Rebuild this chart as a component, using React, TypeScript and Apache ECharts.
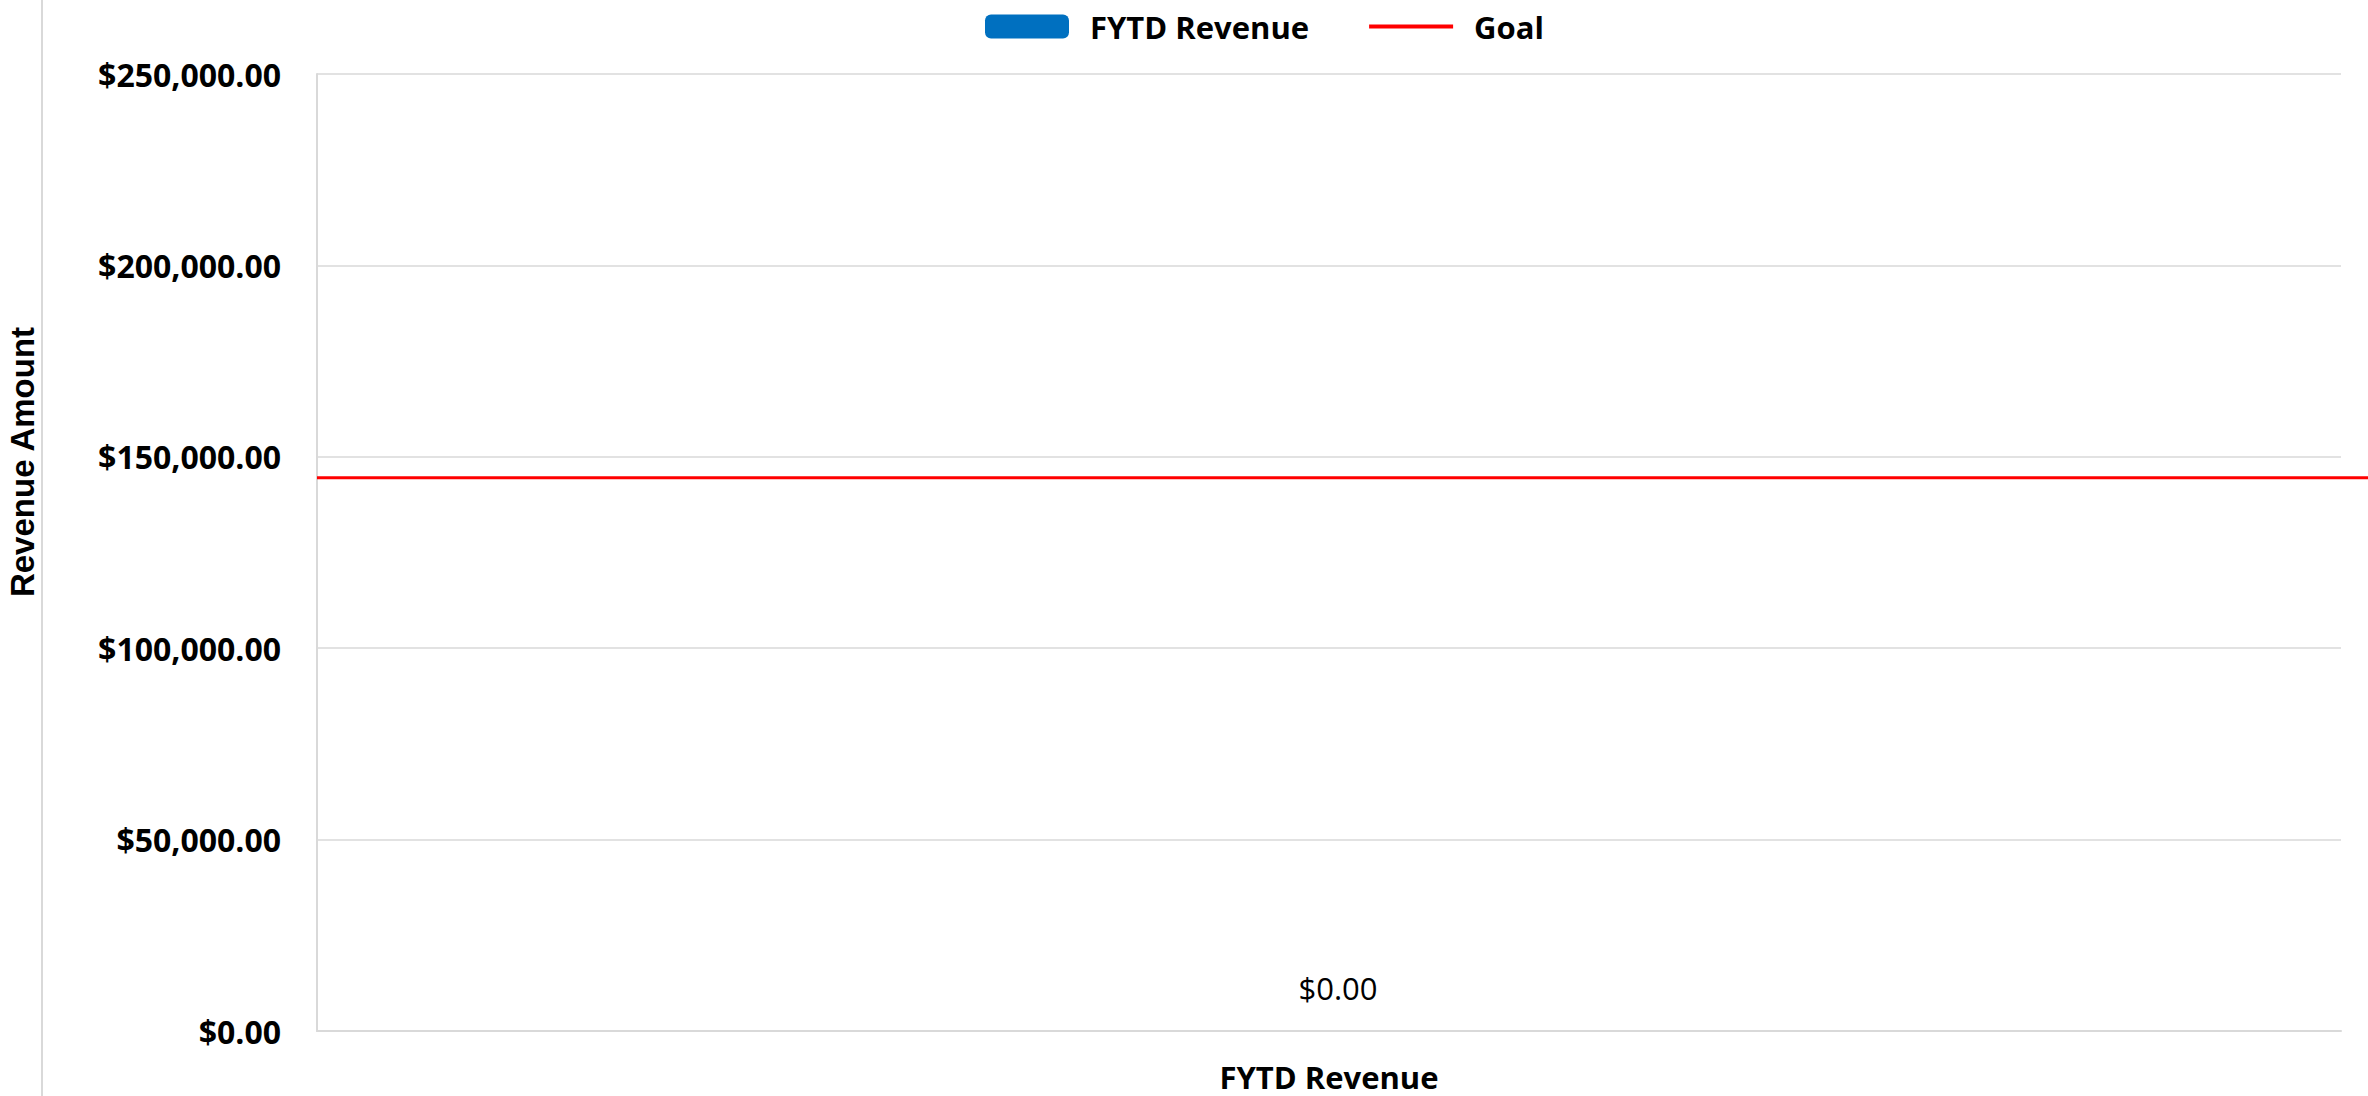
import React, { useEffect, useRef } from "react";
import * as echarts from "echarts";

const categories = ["FYTD Revenue"];
const revenueValues = [0];
const goalValue = 144500;
const yTicks = { min: 0, max: 250000, interval: 50000 };
const seriesNames = ["FYTD Revenue", "Goal"];
const yAxisTitle = "Revenue Amount";

const fmtMoney = (v: number) =>
  "$" + v.toLocaleString("en-US", { minimumFractionDigits: 2, maximumFractionDigits: 2 });

export default function App() {
  const ref = useRef<HTMLDivElement>(null);
  useEffect(() => {
    if (!ref.current) return;
    const chart = echarts.init(ref.current, undefined, { renderer: "svg" });
    const H = 1096;
    chart.setOption({
      animation: false,
      backgroundColor: "#ffffff",
      grid: { left: 317, right: 27, top: 74, bottom: 65, containLabel: false },
      legend: {
        left: 980,
        top: 6,
        itemWidth: 84,
        itemHeight: 24,
        itemGap: 60,
        textStyle: {
          fontFamily: "Open Sans",
          fontWeight: "bold",
          fontSize: 31,
          color: "#000",
          padding: [0, 0, 0, 16],
        },
        data: [
          { name: seriesNames[0], icon: "roundRect" },
          { name: seriesNames[1], icon: "path://M0,0 L84,0 L84,4 L0,4 Z" },
        ],
      },
      xAxis: {
        type: "category",
        data: categories,
        axisLine: { show: true, lineStyle: { color: "#d9d9d9", width: 2 } },
        axisTick: { show: false },
        axisLabel: {
          margin: 30,
          fontFamily: "Open Sans",
          fontWeight: "bold",
          fontSize: 31,
          lineHeight: 31,
          color: "#000",
        },
      },
      yAxis: {
        type: "value",
        min: yTicks.min,
        max: yTicks.max,
        interval: yTicks.interval,
        axisLine: { show: true, lineStyle: { color: "#d9d9d9", width: 2 } },
        axisTick: { show: false },
        splitLine: { show: true, lineStyle: { color: "#d9d9d9", width: 1.5 } },
        axisLabel: {
          margin: 36,
          fontFamily: "Open Sans",
          fontWeight: "bold",
          fontSize: 32,
          color: "#000",
          formatter: (v: number) => fmtMoney(v),
        },
      },
      graphic: [
        {
          type: "line",
          shape: { x1: 42, y1: 0, x2: 42, y2: H },
          style: { stroke: "#d9d9d9", lineWidth: 2 },
          silent: true,
        },
        {
          type: "text",
          x: 22,
          y: 462,
          rotation: Math.PI / 2,
          style: {
            text: yAxisTitle,
            fontFamily: "Liberation Sans",
            fontWeight: "bold",
            fontSize: 33,
            fill: "#000",
            align: "center",
            verticalAlign: "middle",
          },
        },
      ],
      series: [
        {
          name: seriesNames[0],
          type: "bar",
          data: revenueValues,
          barWidth: "60%",
          itemStyle: { color: "#0070c0" },
          label: {
            show: true,
            position: "top",
            distance: 28,
            offset: [9, 0],
            fontFamily: "Open Sans",
            fontSize: 31,
            color: "#000",
            formatter: (p: any) => fmtMoney(p.value),
          },
        },
        {
          name: seriesNames[1],
          type: "custom",
          itemStyle: { color: "#ff0000" },
          data: [[0, goalValue]],
          clip: false,
          renderItem: (params: any, api: any) => {
            const pt = api.coord([0, api.value(1)]);
            return {
              type: "line",
              shape: { x1: params.coordSys.x, y1: pt[1], x2: api.getWidth(), y2: pt[1] },
              style: { stroke: "#ff0000", lineWidth: 3 },
            };
          },
        },
      ],
    });
    return () => chart.dispose();
  }, []);
  return (
    <div
      ref={ref}
      style={{ position: "fixed", left: 0, top: 0, width: 2368, height: 1096 }}
    />
  );
}
